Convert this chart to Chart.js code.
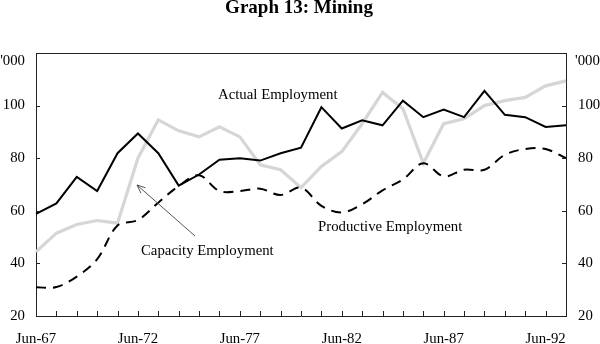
<!DOCTYPE html>
<html>
<head>
<meta charset="utf-8">
<script src="https://cdn.jsdelivr.net/npm/chart.js@4/dist/chart.umd.min.js"></script>
<style>
html,body{margin:0;padding:0;background:#fff;}
#wrap{width:600px;height:344px;position:relative;}
</style>
</head>
<body>
<div id="wrap"><canvas id="c" width="600" height="344"></canvas></div>
<script>
const categories = ["Jun-67","Jun-68","Jun-69","Jun-70","Jun-71","Jun-72","Jun-73","Jun-74","Jun-75","Jun-76","Jun-77","Jun-78","Jun-79","Jun-80","Jun-81","Jun-82","Jun-83","Jun-84","Jun-85","Jun-86","Jun-87","Jun-88","Jun-89","Jun-90","Jun-91","Jun-92","Jun-93"];
const actualEmployment = [58.8, 62.8, 72.9, 67.5, 81.9, 89.4, 81.9, 69.6, 73.8, 79.4, 80.0, 79.1, 81.9, 84.0, 99.4, 91.3, 94.4, 92.5, 101.9, 95.6, 98.5, 95.6, 105.6, 96.5, 95.6, 91.9, 92.5];
const capacityEmployment = [44.4, 51.5, 54.8, 56.3, 55.3, 80.0, 94.6, 90.4, 88.1, 91.9, 88.1, 77.5, 75.6, 68.8, 76.9, 82.5, 93.1, 105.0, 98.8, 78.1, 93.1, 95.0, 100.0, 101.9, 103.1, 107.5, 109.4];
const productiveEmployment = [30.9, 31.0, 35.0, 41.6, 54.4, 56.5, 63.1, 69.4, 73.5, 67.5, 67.5, 68.4, 66.0, 68.8, 61.9, 59.4, 62.5, 67.8, 71.9, 78.1, 73.1, 75.6, 75.6, 81.3, 83.5, 83.5, 80.0];
const yTicks = [20, 40, 60, 80, 100, 120];
const labelEvery = 5;

const SERIF = "'Liberation Serif', 'Times New Roman', serif";
const FS = 14.8;

const decor = {
  id: 'decor',
  afterDraw(chart) {
    const ctx = chart.ctx;
    const a = chart.chartArea;
    const x = chart.scales.x, y = chart.scales.y;
    ctx.save();
    ctx.strokeStyle = '#222';
    ctx.lineWidth = 1;
    ctx.beginPath();
    ctx.moveTo(a.left, a.top + 0.5); ctx.lineTo(a.right, a.top + 0.5);
    ctx.stroke();
    ctx.beginPath();
    for (let i = 0; i < categories.length; i++) {
      const px = Math.round(x.getPixelForValue(i)) + 0.5;
      ctx.moveTo(px, a.bottom); ctx.lineTo(px, a.bottom - 5);
    }
    yTicks.forEach(v => {
      const py = Math.round(y.getPixelForValue(v)) + 0.5;
      ctx.moveTo(a.left, py); ctx.lineTo(a.left + 4, py);
      ctx.moveTo(a.right, py); ctx.lineTo(a.right - 4, py);
    });
    ctx.stroke();
    ctx.fillStyle = '#000';
    ctx.font = 'bold 19px ' + SERIF;
    ctx.textAlign = 'center';
    ctx.textBaseline = 'middle';
    ctx.fillText('Graph 13: Mining', 299, 8);
    ctx.font = FS + 'px ' + SERIF;
    ctx.textAlign = 'right';
    ctx.fillText("'000", 25, 61);
    ctx.textAlign = 'left';
    ctx.fillText("'000", 575, 61);
    ctx.fillText('Actual Employment', 218, 95);
    ctx.fillText('Capacity Employment', 141, 251);
    ctx.fillText('Productive Employment', 318, 227);
    ctx.strokeStyle = '#555';
    ctx.lineWidth = 1;
    const x0 = 195, y0 = 236, x1 = 137, y1 = 185;
    ctx.beginPath(); ctx.moveTo(x0, y0); ctx.lineTo(x1, y1); ctx.stroke();
    const ang = Math.atan2(y1 - y0, x1 - x0);
    const L = 9, w = 0.4;
    ctx.beginPath();
    ctx.moveTo(x1 - L * Math.cos(ang - w), y1 - L * Math.sin(ang - w));
    ctx.lineTo(x1, y1);
    ctx.lineTo(x1 - L * Math.cos(ang + w), y1 - L * Math.sin(ang + w));
    ctx.stroke();
    ctx.restore();
  }
};

new Chart(document.getElementById('c'), {
  type: 'line',
  data: {
    labels: categories,
    datasets: [
      { label: 'Actual Employment', data: actualEmployment, borderColor: '#000', borderWidth: 2, pointRadius: 0, tension: 0, fill: false },
      { label: 'Productive Employment', data: productiveEmployment, borderColor: '#000', borderWidth: 2, borderDash: [10, 7], pointRadius: 0, tension: 0.35, fill: false },
      { label: 'Capacity Employment', data: capacityEmployment, borderColor: '#d6d6d6', borderWidth: 3.2, pointRadius: 0, tension: 0, fill: false }
    ]
  },
  options: {
    responsive: false,
    animation: false,
    events: [],
    layout: { padding: { left: 0, right: 0, top: 53, bottom: 0 } },
    plugins: { legend: { display: false }, title: { display: false }, tooltip: { enabled: false } },
    scales: {
      x: {
        type: 'category',
        offset: false,
        grid: { display: false, drawTicks: false },
        border: { display: true, color: '#222', width: 1 },
        ticks: {
          autoSkip: false, maxRotation: 0, padding: 14,
          color: '#000', font: { family: SERIF, size: FS },
          callback: function (v, i) { return i % labelEvery === 0 ? categories[i] : ''; }
        },
        afterFit: s => { s.height = 28; }
      },
      y: {
        position: 'left', min: 20, max: 120,
        grid: { display: false, drawTicks: false },
        border: { display: true, color: '#222', width: 1 },
        afterBuildTicks: s => { s.ticks = yTicks.map(v => ({ value: v })); },
        ticks: { padding: 11, color: '#000', font: { family: SERIF, size: FS }, callback: v => v === 120 ? '' : v },
        afterFit: s => { s.width = 36; }
      },
      y2: {
        position: 'right', min: 20, max: 120,
        grid: { display: false, drawTicks: false },
        border: { display: true, color: '#222', width: 1 },
        afterBuildTicks: s => { s.ticks = yTicks.map(v => ({ value: v })); },
        ticks: { padding: 12, color: '#000', font: { family: SERIF, size: FS }, callback: v => v === 120 ? '' : v },
        afterFit: s => { s.width = 34; }
      }
    }
  },
  plugins: [decor]
});
</script>
</body>
</html>
